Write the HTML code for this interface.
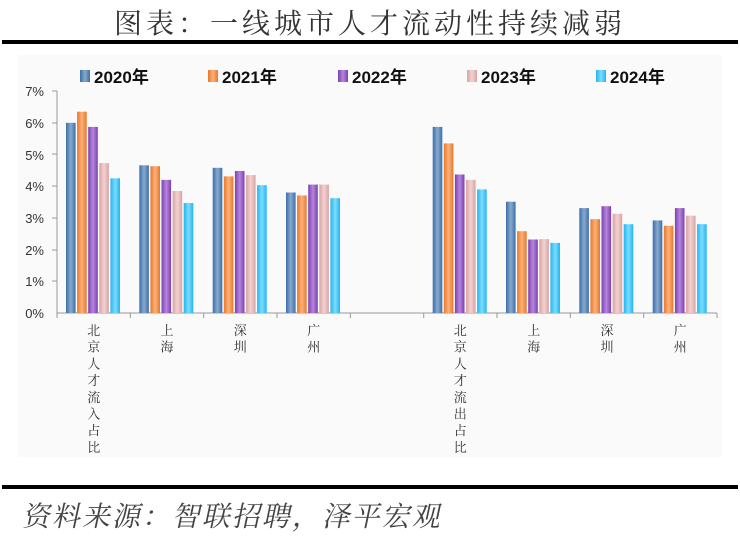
<!DOCTYPE html>
<html><head><meta charset="utf-8"><style>
html,body{margin:0;padding:0;background:#fff;}
svg{display:block;}
</style></head><body>
<svg width="740" height="537" xmlns="http://www.w3.org/2000/svg" font-family="'Liberation Sans','Noto Sans CJK SC',sans-serif">
<defs>
<linearGradient id="g0" x1="0" x2="1"><stop offset="0" stop-color="#3a6fb0"/><stop offset="0.5" stop-color="#8aa9c8"/><stop offset="1" stop-color="#3a6fb0"/></linearGradient>
<linearGradient id="g1" x1="0" x2="1"><stop offset="0" stop-color="#e8772a"/><stop offset="0.5" stop-color="#fbb27a"/><stop offset="1" stop-color="#e8772a"/></linearGradient>
<linearGradient id="g2" x1="0" x2="1"><stop offset="0" stop-color="#7d3fb0"/><stop offset="0.5" stop-color="#b586dc"/><stop offset="1" stop-color="#7d3fb0"/></linearGradient>
<linearGradient id="g3" x1="0" x2="1"><stop offset="0" stop-color="#d9a3a3"/><stop offset="0.5" stop-color="#f2d2d2"/><stop offset="1" stop-color="#d9a3a3"/></linearGradient>
<linearGradient id="g4" x1="0" x2="1"><stop offset="0" stop-color="#1fb6f0"/><stop offset="0.5" stop-color="#7fdcff"/><stop offset="1" stop-color="#1fb6f0"/></linearGradient>
</defs>
<rect x="18" y="55" width="704" height="402" fill="#fafafa"/>
<text x="370" y="33" text-anchor="middle" font-size="28" fill="#333" font-family="'Noto Serif CJK SC','Noto Sans CJK SC',serif" letter-spacing="4">图表：一线城市人才流动性持续减弱</text>
<rect x="2" y="40" width="736" height="4" fill="#000"/>
<g font-size="17" font-weight="bold" fill="#111">
<rect x="80" y="70" width="10" height="12" fill="url(#g0)"/><text x="94" y="83">2020年</text>
<rect x="208" y="70" width="10" height="12" fill="url(#g1)"/><text x="222" y="83">2021年</text>
<rect x="338" y="70" width="10" height="12" fill="url(#g2)"/><text x="352" y="83">2022年</text>
<rect x="467" y="70" width="10" height="12" fill="url(#g3)"/><text x="481" y="83">2023年</text>
<rect x="596" y="70" width="10" height="12" fill="url(#g4)"/><text x="610" y="83">2024年</text>
</g>
<g font-size="13" fill="#333" text-anchor="end">
<text x="44" y="318">0%</text><text x="44" y="286">1%</text><text x="44" y="255">2%</text><text x="44" y="223">3%</text><text x="44" y="191">4%</text><text x="44" y="160">5%</text><text x="44" y="128">6%</text><text x="44" y="96">7%</text>
</g>
<g stroke="#999" stroke-width="1">
<line x1="57" y1="91" x2="57" y2="313"/>
<line x1="57" y1="313" x2="717" y2="313"/>
<line x1="52" y1="91" x2="57" y2="91"/><line x1="52" y1="123" x2="57" y2="123"/><line x1="52" y1="154" x2="57" y2="154"/><line x1="52" y1="186" x2="57" y2="186"/><line x1="52" y1="218" x2="57" y2="218"/><line x1="52" y1="250" x2="57" y2="250"/><line x1="52" y1="281" x2="57" y2="281"/>
<line x1="57" y1="313" x2="57" y2="318"/><line x1="130.3" y1="313" x2="130.3" y2="318"/><line x1="203.7" y1="313" x2="203.7" y2="318"/><line x1="277" y1="313" x2="277" y2="318"/><line x1="350.3" y1="313" x2="350.3" y2="318"/><line x1="423.7" y1="313" x2="423.7" y2="318"/><line x1="497" y1="313" x2="497" y2="318"/><line x1="570.3" y1="313" x2="570.3" y2="318"/><line x1="643.7" y1="313" x2="643.7" y2="318"/><line x1="717" y1="313" x2="717" y2="318"/>
</g>
<g>
<rect x="66.0" y="122.8" width="9.6" height="190.2" fill="url(#g0)"/>
<rect x="77.1" y="111.7" width="9.6" height="201.3" fill="url(#g1)"/>
<rect x="88.2" y="126.9" width="9.6" height="186.1" fill="url(#g2)"/>
<rect x="99.3" y="163.1" width="9.6" height="149.9" fill="url(#g3)"/>
<rect x="110.4" y="178.3" width="9.6" height="134.7" fill="url(#g4)"/>
<rect x="139.3" y="165.3" width="9.6" height="147.7" fill="url(#g0)"/>
<rect x="150.4" y="166.2" width="9.6" height="146.8" fill="url(#g1)"/>
<rect x="161.5" y="179.9" width="9.6" height="133.1" fill="url(#g2)"/>
<rect x="172.6" y="191.0" width="9.6" height="122.0" fill="url(#g3)"/>
<rect x="183.7" y="203.0" width="9.6" height="110.0" fill="url(#g4)"/>
<rect x="212.7" y="167.8" width="9.6" height="145.2" fill="url(#g0)"/>
<rect x="223.8" y="176.4" width="9.6" height="136.6" fill="url(#g1)"/>
<rect x="234.9" y="171.0" width="9.6" height="142.0" fill="url(#g2)"/>
<rect x="246.0" y="175.1" width="9.6" height="137.9" fill="url(#g3)"/>
<rect x="257.1" y="185.2" width="9.6" height="127.8" fill="url(#g4)"/>
<rect x="286.0" y="192.5" width="9.6" height="120.5" fill="url(#g0)"/>
<rect x="297.1" y="195.4" width="9.6" height="117.6" fill="url(#g1)"/>
<rect x="308.2" y="184.6" width="9.6" height="128.4" fill="url(#g2)"/>
<rect x="319.3" y="184.6" width="9.6" height="128.4" fill="url(#g3)"/>
<rect x="330.4" y="198.2" width="9.6" height="114.8" fill="url(#g4)"/>
<rect x="432.7" y="126.9" width="9.6" height="186.1" fill="url(#g0)"/>
<rect x="443.8" y="143.4" width="9.6" height="169.6" fill="url(#g1)"/>
<rect x="454.9" y="174.5" width="9.6" height="138.5" fill="url(#g2)"/>
<rect x="466.0" y="179.9" width="9.6" height="133.1" fill="url(#g3)"/>
<rect x="477.1" y="189.4" width="9.6" height="123.6" fill="url(#g4)"/>
<rect x="506.0" y="201.7" width="9.6" height="111.3" fill="url(#g0)"/>
<rect x="517.1" y="231.2" width="9.6" height="81.8" fill="url(#g1)"/>
<rect x="528.2" y="239.5" width="9.6" height="73.5" fill="url(#g2)"/>
<rect x="539.3" y="239.1" width="9.6" height="73.9" fill="url(#g3)"/>
<rect x="550.4" y="242.9" width="9.6" height="70.1" fill="url(#g4)"/>
<rect x="579.3" y="208.1" width="9.6" height="104.9" fill="url(#g0)"/>
<rect x="590.4" y="219.2" width="9.6" height="93.8" fill="url(#g1)"/>
<rect x="601.5" y="206.2" width="9.6" height="106.8" fill="url(#g2)"/>
<rect x="612.6" y="213.8" width="9.6" height="99.2" fill="url(#g3)"/>
<rect x="623.7" y="224.2" width="9.6" height="88.8" fill="url(#g4)"/>
<rect x="652.7" y="220.4" width="9.6" height="92.6" fill="url(#g0)"/>
<rect x="663.8" y="225.8" width="9.6" height="87.2" fill="url(#g1)"/>
<rect x="674.9" y="208.1" width="9.6" height="104.9" fill="url(#g2)"/>
<rect x="686.0" y="215.7" width="9.6" height="97.3" fill="url(#g3)"/>
<rect x="697.1" y="224.2" width="9.6" height="88.8" fill="url(#g4)"/>
</g>
<g font-size="13" fill="#333" text-anchor="middle" font-family="'Noto Serif CJK SC','Noto Sans CJK SC',serif">
<text x="93.7" y="335"><tspan x="93.7">北</tspan><tspan x="93.7" dy="16.7">京</tspan><tspan x="93.7" dy="16.7">人</tspan><tspan x="93.7" dy="16.7">才</tspan><tspan x="93.7" dy="16.7">流</tspan><tspan x="93.7" dy="16.7">入</tspan><tspan x="93.7" dy="16.7">占</tspan><tspan x="93.7" dy="16.7">比</tspan></text>
<text x="167" y="335"><tspan x="167">上</tspan><tspan x="167" dy="16.7">海</tspan></text>
<text x="240.3" y="335"><tspan x="240.3">深</tspan><tspan x="240.3" dy="16.7">圳</tspan></text>
<text x="313.7" y="335"><tspan x="313.7">广</tspan><tspan x="313.7" dy="16.7">州</tspan></text>
<text x="460.3" y="335"><tspan x="460.3">北</tspan><tspan x="460.3" dy="16.7">京</tspan><tspan x="460.3" dy="16.7">人</tspan><tspan x="460.3" dy="16.7">才</tspan><tspan x="460.3" dy="16.7">流</tspan><tspan x="460.3" dy="16.7">出</tspan><tspan x="460.3" dy="16.7">占</tspan><tspan x="460.3" dy="16.7">比</tspan></text>
<text x="533.7" y="335"><tspan x="533.7">上</tspan><tspan x="533.7" dy="16.7">海</tspan></text>
<text x="607" y="335"><tspan x="607">深</tspan><tspan x="607" dy="16.7">圳</tspan></text>
<text x="680.3" y="335"><tspan x="680.3">广</tspan><tspan x="680.3" dy="16.7">州</tspan></text>
</g>
<rect x="2" y="485" width="736" height="4" fill="#000"/>
<g transform="translate(22,526) skewX(-12)">
<text x="0" y="0" font-size="28" fill="#444" font-family="'Noto Serif CJK SC','Noto Sans CJK SC',serif" letter-spacing="2">资料来源：智联招聘，泽平宏观</text>
</g>
</svg>
</body></html>
